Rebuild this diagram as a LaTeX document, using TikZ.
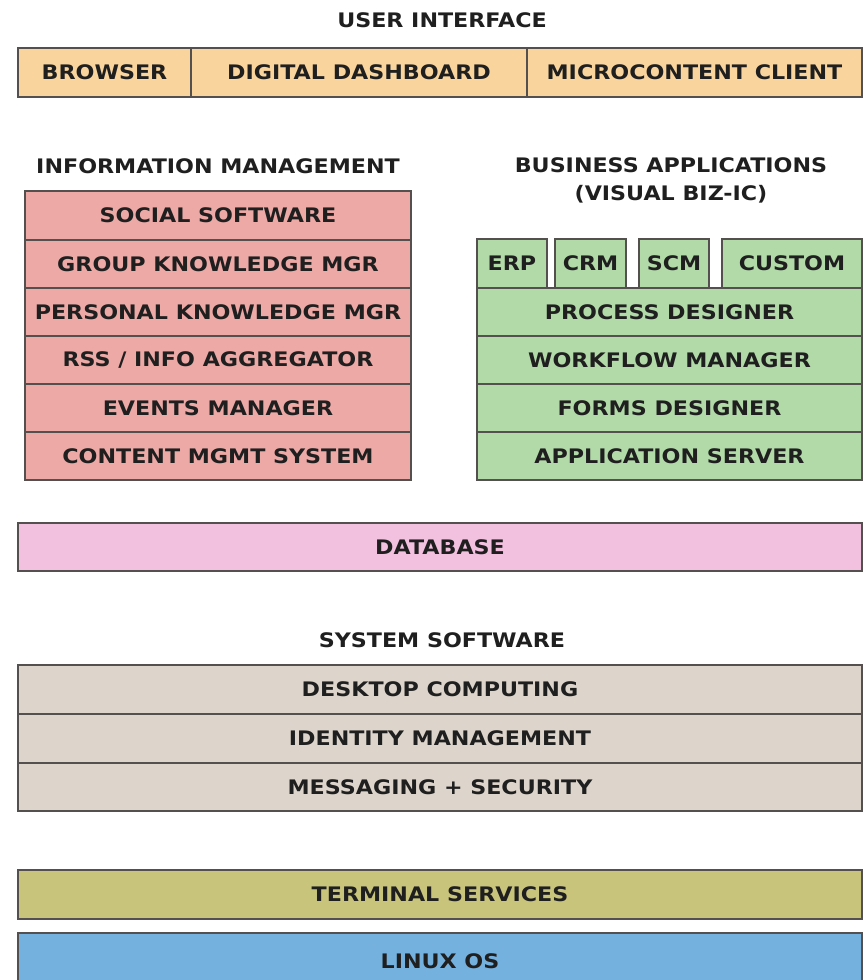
\documentclass[tikz,border=0pt]{standalone}
\usepackage{fontspec}
\setmainfont{DejaVu Sans}
\newfontfamily\labfont[FakeStretch=1.11]{DejaVu Sans}
\definecolor{uicol}{HTML}{F9D49D}
\definecolor{imcol}{HTML}{ECA9A6}
\definecolor{bacol}{HTML}{B2DAA8}
\definecolor{dbcol}{HTML}{F3C1E0}
\definecolor{sscol}{HTML}{DDD5CC}
\definecolor{tscol}{HTML}{C9C47C}
\definecolor{oscol}{HTML}{75B1DE}
\definecolor{edge}{HTML}{555050}
\newcommand{\cell}[7]{%
  \pgfmathsetmacro{\cw}{#4-#2}\pgfmathsetmacro{\ch}{#5-#3}%
  \node[cellbox, fill=#6, minimum width=\cw pt, minimum height=\ch pt] (#1) at ({(#2+#4)/2},{(#3+#5)/2+1}) {#7};}
\begin{document}
\begin{tikzpicture}[x=1pt,y=-1pt,
  cellbox/.style={draw=edge, line width=1.3pt, rectangle, inner sep=0pt, anchor=center, font=\labfont\fontsize{20}{28}\selectfont\bfseries, text=black!88},
  title/.style={inner sep=0pt, font=\labfont\fontsize{20}{28}\selectfont\bfseries, text=black!88, align=center}]
\useasboundingbox (0,0) rectangle (865,980);
\fill[white] (0,0) rectangle (865,980);
% titles
\node[title] (tui) at (442,20) {USER INTERFACE};
\node[title] (tim) at (218,166) {INFORMATION MANAGEMENT};
\node[title] (tba) at (671,180) {BUSINESS APPLICATIONS\\(VISUAL BIZ-IC)};
\node[title] (tss) at (442,640) {SYSTEM SOFTWARE};
% user interface
\cell{browser}{18}{47}{191}{96}{uicol}{BROWSER}
\cell{dash}{191}{47}{527}{96}{uicol}{DIGITAL DASHBOARD}
\cell{micro}{527}{47}{862}{96}{uicol}{MICROCONTENT CLIENT}
% information management
\cell{social}{25}{190}{411}{239}{imcol}{SOCIAL SOFTWARE}
\cell{group}{25}{239}{411}{287}{imcol}{GROUP KNOWLEDGE MGR}
\cell{personal}{25}{287}{411}{335}{imcol}{PERSONAL KNOWLEDGE MGR}
\cell{rss}{25}{335}{411}{383}{imcol}{RSS / INFO AGGREGATOR}
\cell{events}{25}{383}{411}{431}{imcol}{EVENTS MANAGER}
\cell{cms}{25}{431}{411}{479}{imcol}{CONTENT MGMT SYSTEM}
% business applications
\cell{erp}{477}{238}{547}{287}{bacol}{ERP}
\cell{crm}{555}{238}{626}{287}{bacol}{CRM}
\cell{scm}{639}{238}{709}{287}{bacol}{SCM}
\cell{custom}{722}{238}{862}{287}{bacol}{CUSTOM}
\cell{process}{477}{287}{862}{335}{bacol}{PROCESS DESIGNER}
\cell{workflow}{477}{335}{862}{383}{bacol}{WORKFLOW MANAGER}
\cell{forms}{477}{383}{862}{431}{bacol}{FORMS DESIGNER}
\cell{appserver}{477}{431}{862}{479}{bacol}{APPLICATION SERVER}
% database
\cell{db}{18}{522}{862}{570}{dbcol}{DATABASE}
% system software
\cell{desktop}{18}{664}{862}{713}{sscol}{DESKTOP COMPUTING}
\cell{identity}{18}{713}{862}{762}{sscol}{IDENTITY MANAGEMENT}
\cell{messaging}{18}{762}{862}{810}{sscol}{MESSAGING + SECURITY}
% base
\cell{terminal}{18}{869}{862}{918}{tscol}{TERMINAL SERVICES}
\cell{linux}{18}{932}{862}{988}{oscol}{LINUX OS}
\end{tikzpicture}
\end{document}
